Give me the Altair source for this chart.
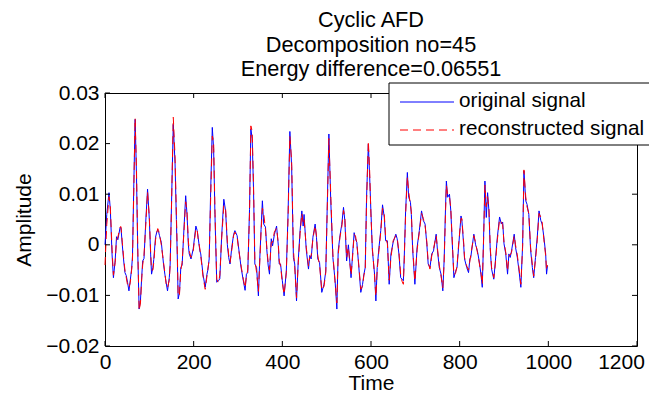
import altair as alt
import pandas as pd

title_lines = ["Cyclic AFD", "Decomposition no=45", "Energy difference=0.06551"]
legend_labels = ["original signal", "reconstructed signal"]
x_ticks = [0, 200, 400, 600, 800, 1000, 1200]
y_ticks = [-0.02, -0.01, 0, 0.01, 0.02, 0.03]

times = [
    0, 4, 9, 12, 16, 19, 23, 26, 29, 34,
    36, 39, 42, 45, 48, 51, 54, 57, 60, 62,
    65, 68, 71, 74, 77, 80, 83, 85, 88, 92,
    96, 100, 103, 105, 108, 110, 114, 117, 119, 121,
    123, 127, 132, 135, 138, 141, 145, 147, 150, 154,
    158, 161, 163, 165, 168, 171, 174, 179, 182, 185,
    188, 190, 194, 199, 202, 205, 208, 210, 214, 216,
    221, 226, 230, 232, 235, 238, 242, 245, 248, 252,
    256, 259, 263, 268, 272, 276, 279, 282, 286, 290,
    293, 298, 302, 307, 312, 316, 319, 322, 326, 329,
    332, 335, 338, 342, 346, 349, 352, 355, 358, 362,
    365, 368, 371, 375, 378, 382, 387, 391, 393, 396,
    400, 404, 409, 413, 417, 421, 425, 428, 432, 436,
    440, 444, 447, 449, 454, 459, 462, 465, 469, 474,
    477, 480, 484, 489, 494, 498, 501, 505, 509, 514,
    519, 523, 526, 530, 534, 538, 541, 545, 549, 551,
    555, 558, 562, 565, 568, 572, 577, 581, 584, 587,
    590, 594, 597, 600, 603, 608, 611, 614, 618, 622,
    626, 630, 633, 637, 641, 645, 650, 656, 659, 663,
    667, 670, 673, 675, 678, 682, 685, 689, 691, 694,
    699, 704, 709, 714, 718, 722, 726, 729, 733, 737,
    741, 747, 750, 754, 758, 762, 765, 768, 770, 773,
    777, 780, 784, 787, 791, 794, 798, 803, 805, 809,
    811, 816, 820, 823, 825, 832, 836, 840, 844, 848,
    851, 854, 857, 860, 863, 866, 869, 872, 877, 880,
    885, 890, 894, 897, 900, 904, 908, 911, 914, 917,
    923, 926, 930, 934, 938, 942, 945, 949, 952, 956,
    960, 964, 967, 971, 975, 979, 983, 986, 990, 994,
    996, 998,
]

original = [
    0.0, 0.006, 0.0103, 0.007, -0.002, -0.0065, -0.003, 0.0016, 0.001, 0.0034,
    0.0034, 0.0, -0.003, -0.0055, -0.0061, -0.0075, -0.0091, -0.007, -0.0048, -0.0022,
    0.012, 0.0248, 0.0138, -0.002, -0.0127, -0.011, -0.006, -0.0032, -0.0027, 0.0047,
    0.011, 0.005, -0.002, -0.0058, -0.0045, -0.0029, 0.0015, 0.0026, 0.0029, 0.0025,
    0.0018, 0.0005, -0.0038, -0.0058, -0.0075, -0.0091, -0.0065, -0.0038, 0.008, 0.0238,
    0.016, 0.005, -0.002, -0.0107, -0.0095, -0.0045, -0.004, 0.0047, 0.0097, 0.006,
    0.0, -0.0018, -0.0028, -0.0008, 0.0015, 0.0037, 0.0028, 0.0015, -0.0012, -0.0018,
    -0.0058, -0.0084, -0.0058, -0.005, -0.0028, 0.0094, 0.0232, 0.019, 0.006, -0.0074,
    -0.0071, -0.0067, 0.0015, 0.009, 0.0067, 0.0, -0.0025, -0.0038, -0.0005, 0.002,
    0.0028, 0.0018, -0.001, -0.0045, -0.0071, -0.009, -0.0058, -0.0055, 0.007, 0.0229,
    0.021, 0.011, -0.0038, -0.0045, -0.0101, -0.003, 0.003, 0.0087, 0.0041, 0.0035,
    -0.001, -0.004, -0.0058, 0.0012, -0.0002, 0.002, 0.0037, -0.0002, -0.0038, -0.0038,
    -0.0071, -0.0101, -0.0052, 0.0065, 0.0224, 0.0155, -0.0025, -0.0038, -0.0111, -0.003,
    0.0028, 0.0067, 0.0037, 0.006, -0.001, -0.0048, -0.0021, -0.0028, 0.0015, 0.0041,
    0.0015, -0.0028, -0.0035, -0.0094, -0.0078, -0.0052, 0.0065, 0.0219, 0.0092, -0.0025,
    -0.0071, -0.0127, -0.0012, 0.0018, 0.004, 0.0074, 0.0048, -0.0032, 0.0, -0.002,
    -0.0065, -0.0025, 0.0024, 0.0012, 0.0005, -0.0038, -0.0094, -0.0078, -0.0058, -0.0045,
    0.0094, 0.0199, 0.0134, 0.0061, -0.001, -0.0058, -0.0111, -0.0045, -0.0005, 0.0028,
    0.0079, 0.0054, 0.0008, 0.0008, -0.0078, -0.0018, 0.0005, 0.0021, 0.0012, -0.0018,
    -0.0065, -0.0068, -0.0071, -0.0025, 0.0065, 0.0143, 0.0094, 0.0084, 0.006, -0.001,
    -0.0078, -0.0005, 0.0028, 0.0067, 0.0048, 0.0041, 0.0, -0.0038, -0.0045, -0.0018,
    -0.0012, 0.0021, -0.0012, -0.0045, -0.0058, -0.0091, -0.003, 0.007, 0.0126, 0.0094,
    0.01, 0.0067, -0.001, -0.0065, -0.0052, -0.0045, 0.0, 0.0057, 0.0048, 0.0,
    -0.0028, -0.0045, -0.0055, -0.0028, -0.0025, 0.0021, 0.0, -0.0012, -0.0032, -0.0058,
    -0.0084, 0.0015, 0.0126, 0.0054, 0.0103, 0.0067, -0.001, -0.0048, -0.0068, -0.0038,
    0.0015, 0.0055, 0.0041, 0.0045, 0.0002, -0.0018, -0.0058, -0.0018, -0.0025, -0.0012,
    0.0021, -0.0005, -0.0025, -0.0052, -0.0084, 0.0, 0.0146, 0.0087, 0.008, 0.006,
    -0.001, -0.0045, -0.0065, -0.0025, 0.0015, 0.0067, 0.0048, 0.0041, 0.0015, -0.0018,
    -0.0058, -0.0042,
]

reconstructed = [
    -0.004, 0.004, 0.0095, 0.0075, -0.001, -0.006, -0.0035, 0.001, 0.0015, 0.0035,
    0.0036, 0.0005, -0.0025, -0.005, -0.0065, -0.008, -0.0085, -0.0075, -0.005, -0.003,
    0.011, 0.025, 0.015, -0.001, -0.013, -0.0115, -0.0065, -0.004, -0.002, 0.004,
    0.0105, 0.0055, -0.0015, -0.005, -0.005, -0.0035, 0.001, 0.0025, 0.0032, 0.0028,
    0.002, 0.0, -0.0035, -0.0055, -0.0078, -0.0085, -0.007, -0.004, 0.0075, 0.0252,
    0.0175, 0.006, -0.001, -0.0102, -0.0098, -0.005, -0.0035, 0.004, 0.0085, 0.0065,
    0.0008, -0.0012, -0.0025, -0.0012, 0.001, 0.0032, 0.003, 0.0012, -0.0008, -0.0022,
    -0.0062, -0.0088, -0.0062, -0.0048, -0.003, 0.008, 0.0215, 0.0205, 0.007, -0.0068,
    -0.0075, -0.006, 0.001, 0.0078, 0.0072, 0.0005, -0.002, -0.0035, -0.001, 0.0018,
    0.0025, 0.0015, -0.0012, -0.0042, -0.0068, -0.0085, -0.0062, -0.005, 0.006, 0.0235,
    0.0225, 0.012, -0.003, -0.0055, -0.0092, -0.0035, 0.0025, 0.0072, 0.0062, 0.003,
    -0.0005, -0.0035, -0.005, 0.0005, 0.0005, 0.0025, 0.0033, 0.0002, -0.0032, -0.0042,
    -0.0075, -0.0098, -0.0055, 0.0055, 0.0215, 0.0165, -0.001, -0.0045, -0.0105, -0.0035,
    0.0022, 0.0062, 0.0045, 0.0052, -0.0005, -0.0042, -0.0025, -0.0022, 0.0012, 0.0038,
    0.0018, -0.0022, -0.004, -0.009, -0.0082, -0.0055, 0.0058, 0.021, 0.0105, -0.0018,
    -0.0075, -0.0115, -0.002, 0.0015, 0.0035, 0.0068, 0.0055, -0.0025, -0.0005, -0.0025,
    -0.006, -0.003, 0.002, 0.0018, 0.0002, -0.0035, -0.0088, -0.0082, -0.006, -0.005,
    0.0085, 0.0205, 0.0145, 0.0055, -0.0005, -0.0062, -0.0102, -0.005, -0.001, 0.0025,
    0.0072, 0.006, 0.0015, 0.0002, -0.007, -0.0025, 0.0008, 0.0018, 0.0015, -0.0015,
    -0.006, -0.0072, -0.0078, -0.003, 0.0058, 0.0135, 0.0105, 0.0078, 0.0065, -0.0005,
    -0.0072, -0.001, 0.0025, 0.0062, 0.0052, 0.0038, 0.0005, -0.0035, -0.0048, -0.0022,
    -0.0008, 0.0018, -0.0008, -0.004, -0.0062, -0.0085, -0.0035, 0.006, 0.0118, 0.0098,
    0.0095, 0.0072, -0.0005, -0.006, -0.0055, -0.0042, 0.0005, 0.0052, 0.0052, 0.0005,
    -0.0025, -0.0042, -0.005, -0.0032, -0.002, 0.0018, 0.0004, -0.0015, -0.0035, -0.0055,
    -0.0078, 0.001, 0.0118, 0.0075, 0.0095, 0.0072, -0.0005, -0.0045, -0.0065, -0.0042,
    0.001, 0.005, 0.0045, 0.004, 0.0005, -0.0015, -0.0052, -0.0022, -0.002, -0.0015,
    0.0018, 0.0, -0.002, -0.0048, -0.0078, -0.0005, 0.0148, 0.0095, 0.0075, 0.0062,
    -0.0005, -0.004, -0.0062, -0.003, 0.001, 0.0062, 0.0055, 0.0045, 0.001, -0.0022,
    -0.005, -0.004,
]

assert len(times) == len(original) == len(reconstructed)

FONT = "Liberation Sans"
FS = 21
LFS = 20.7
TFS = 21.7
W, H = 532, 253

df_orig = pd.DataFrame({"time": times, "value": original})
df_rec = pd.DataFrame({"time": times, "value": reconstructed})

x_scale = alt.Scale(domain=[0, 1200], nice=False, zero=False)
y_scale = alt.Scale(domain=[-0.02, 0.03], nice=False, zero=False)

x_axis = alt.Axis(values=x_ticks, title="Time", format="d", labelPadding=5, titlePadding=0,
                  labelFlush=False, ticks=False, domain=False, grid=False,
                  labelOffset={"expr": "datum.value == 1200 ? -16 : 0"})
y_axis = alt.Axis(values=y_ticks, title="Amplitude", labelPadding=6, titlePadding=11,
                  ticks=False, domain=False, grid=False,
                  labelExpr="datum.value == 0 ? '0' : format(datum.value, '.2f')")

X = alt.X("time:Q", scale=x_scale, axis=x_axis)
Y = alt.Y("value:Q", scale=y_scale, axis=y_axis)

blue = alt.Chart(df_orig).mark_line(color="#0000FF", strokeWidth=1).encode(x=X, y=Y)
red = alt.Chart(df_rec).mark_line(color="#FF0000", strokeWidth=1, strokeDash=[8, 5]).encode(x=X, y=Y)

tick_df_x = pd.DataFrame({"time": x_ticks})
tick_df_y = pd.DataFrame({"value": y_ticks})
tick_len = 5
xb = alt.Chart(tick_df_x).mark_rule(color="black", strokeWidth=1).encode(
    x=X, y=alt.value(H), y2=alt.value(H - tick_len))
xtop = alt.Chart(tick_df_x).mark_rule(color="black", strokeWidth=1).encode(
    x=X, y=alt.value(0), y2=alt.value(tick_len))
yl = alt.Chart(tick_df_y).mark_rule(color="black", strokeWidth=1).encode(
    y=Y, x=alt.value(0), x2=alt.value(tick_len))
yr = alt.Chart(tick_df_y).mark_rule(color="black", strokeWidth=1).encode(
    y=Y, x=alt.value(W), x2=alt.value(W - tick_len))

one = pd.DataFrame({"k": [0]})
box = alt.Chart(one).mark_rect(fill="white", stroke="black", strokeWidth=1).encode(
    x=alt.value(284), x2=alt.value(580), y=alt.value(-10), y2=alt.value(52))
leg_blue = alt.Chart(one).mark_rule(color="#0000FF", strokeWidth=1).encode(
    x=alt.value(295), x2=alt.value(349), y=alt.value(9))
leg_red = alt.Chart(one).mark_rule(color="#FF0000", strokeWidth=1, strokeDash=[8, 5]).encode(
    x=alt.value(295), x2=alt.value(349), y=alt.value(37))
leg_t1 = alt.Chart(one).mark_text(text=legend_labels[0], align="left", baseline="middle",
                                  font=FONT, fontSize=LFS, color="black").encode(
    x=alt.value(354), y=alt.value(8))
leg_t2 = alt.Chart(one).mark_text(text=legend_labels[1], align="left", baseline="middle",
                                  font=FONT, fontSize=LFS, color="black").encode(
    x=alt.value(354), y=alt.value(36))

chart = alt.layer(
    blue, red, xb, xtop, yl, yr, box, leg_blue, leg_red, leg_t1, leg_t2
).properties(
    width=W,
    height=H,
    title=alt.TitleParams(text=title_lines, font=FONT, fontSize=TFS, fontWeight="normal",
                          color="black", anchor="middle", lineHeight=24.5, offset=1),
    autosize=alt.AutoSizeParams(type="none"),
    padding={"left": 97, "top": 85, "right": 12, "bottom": 47},
).configure_axis(
    labelFont=FONT, labelFontSize=FS, labelColor="black",
    titleFont=FONT, titleFontSize=FS, titleFontWeight="normal", titleColor="black",
).configure_view(stroke="black", strokeWidth=1)

chart.save("out.html", embed_options={"renderer": "svg", "actions": False})
